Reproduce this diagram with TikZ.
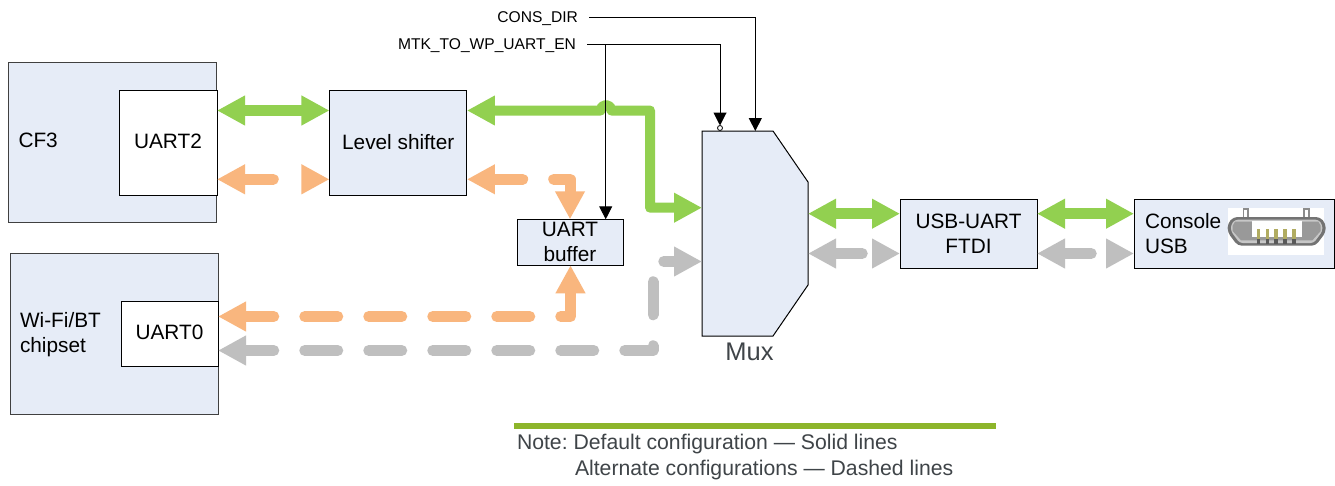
\documentclass[tikz,border=0pt]{standalone}
\usepackage{fontspec}
\setmainfont{Liberation Sans}
\usetikzlibrary{arrows.meta,calc}
\definecolor{boxfill}{HTML}{E6ECF7}
\definecolor{gn}{HTML}{92D050}
\definecolor{og}{HTML}{F9B67E}
\definecolor{gy}{HTML}{BFBFBF}
\definecolor{rule}{HTML}{8DB52B}
\definecolor{ink}{HTML}{3F4448}
\tikzset{
  x=1pt,y=-1pt,
  every node/.style={inner sep=0pt,outer sep=0pt},
  box/.style={draw=black,line width=1pt,fill=boxfill,align=center,font=\fontsize{20.8}{25}\selectfont},
  txt/.style={align=left,anchor=west,font=\fontsize{20.8}{25}\selectfont},
  sig/.style={anchor=east,inner xsep=11pt,text height=11.5pt,text depth=0pt,font=\fontsize{15.6}{18}\selectfont},
  notetxt/.style={txt,text=ink,font=\fontsize{21.2}{25}\selectfont\frenchspacing},
  fat/.style={line width=11pt,line join=round,>={Triangle[length=28pt,width=28pt]}},
  dashA/.style={line cap=round,dash pattern=on 33pt off 31pt,dash phase=3.5pt},
  thin/.style={draw=black,line width=1pt,arrows={-Triangle[length=13pt,width=13pt]}},
}
\begin{document}
\begin{tikzpicture}
\useasboundingbox (0,0) rectangle (1335,485);
\fill[white] (0,0) rectangle (1335,485);
% rows
\coordinate (rowG) at (0,110.5);
\coordinate (rowO) at (0,179.3);
\coordinate (rowMg) at (0,207.7);
\coordinate (rowMo) at (0,261.5);
\coordinate (rowU) at (0,316.5);
\coordinate (rowL) at (0,350.5);
\coordinate (rowRg) at (0,213.7);
\coordinate (rowRo) at (0,253.5);
% outer blocks
\node[box,draw=black!75!white,minimum width=208,minimum height=160] (cf3) at (112,142) {};
\node[box,fill=white,text depth=2pt,minimum width=98,minimum height=105] (uart2) at (168,142.5) {UART2};
\node[txt] (cf3t) at (18.5,140.5) {CF3};
\node[box,draw=black!75!white,minimum width=208,minimum height=161] (wifi) at (114,333.5) {};
\node[box,fill=white,text depth=2pt,minimum width=97,minimum height=65] (uart0) at (169.5,333.5) {UART0};
\node[txt] (wifit) at (20,334.5) {Wi-Fi/BT\\chipset};
\node[box,text depth=2pt,minimum width=137.5,minimum height=105] (level) at (398.2,142.5) {Level shifter};
\node[box,minimum width=106,minimum height=46] (buffer) at (570,242.3) {UART\\buffer};
\node[box,minimum width=137,minimum height=69] (ftdi) at (968.5,233.5) {USB-UART\\FTDI};
\node[box,minimum width=200,minimum height=69] (console) at (1234,233.5) {};
\node[txt] (consolet) at (1145,233.5) {Console\\USB};
% mux
\node[minimum width=106,minimum height=205] (mux) at (755,233.5) {};
\draw[line width=1pt,fill=boxfill,line join=miter] (mux.north west) -- ($(mux.north east)+(-35,0)$) -- ($(mux.north east)+(0,51)$) -- ($(mux.south east)+(0,-51)$) -- ($(mux.south east)+(-35,0)$) -- (mux.south west) -- cycle;
\node[font=\fontsize{25.5}{30}\selectfont,text=ink] (muxt) at (749.5,351.5) {Mux};
% USB connector picture
\begin{scope}[shift={(1225,203)},x=0.3333pt,y=-0.3333pt]
\fill[white] (8,15) rectangle (297,155);
\fill[black!45!white] (53,15) rectangle (72,50);
\fill[black!45!white] (235,15) rectangle (254,50);
\fill[white] (58,20) rectangle (67,50);
\fill[white] (240,20) rectangle (249,50);
\fill[black!55!white,rounded corners=4pt] (25,42) -- (285,42) -- (302,62) -- (302,88) -- (272,128) -- (38,128) -- (8,88) -- (8,62) -- cycle;
\fill[black!22!white,rounded corners=3pt] (30,50) -- (280,50) -- (292,65) -- (292,85) -- (266,120) -- (44,120) -- (18,85) -- (18,65) -- cycle;
\fill[black!40!white] (30,56) -- (280,56) -- (287,68) -- (287,84) -- (262,112) -- (48,112) -- (23,84) -- (23,68) -- cycle;
\fill[white] (80,55) rectangle (230,102);
\foreach \px in {100,127,153,180,207}{
  \fill[black!65!white] (\px-5,100) rectangle (\px+5,122);
  \fill[black!25!yellow!60!gray] (\px-5,78) rectangle (\px+5,108);
}
\end{scope}
% fat connectors
\draw[fat,gn,<->] (uart2.east |- rowG) -- (level.west |- rowG);
\coordinate (jump) at (600.5,110.5);
\coordinate (corG) at (650,110.5);
\draw[fat,line width=10pt,gn,<->] (level.east |- rowG) -- (jump) arc[start angle=180,end angle=0,radius=5.5pt] -- (corG) -- (corG |- rowMg) -- (mux.west |- rowMg);
\draw[fat,gn,<->] (mux.east |- rowRg) -- (ftdi.west |- rowRg);
\draw[fat,gn,<->] (ftdi.east |- rowRg) -- (console.west |- rowRg);
\draw[fat,og,<->,line cap=round,dash pattern=on 30pt off 60pt] (uart2.east |- rowO) -- (level.west |- rowO);
\draw[fat,og,<->,dashA] (level.east |- rowO) -- (buffer.north |- rowO) -- (buffer.north);
\coordinate (corO) at (570.5,316.5);
\draw[fat,og,<->,dashA] (uart0.east |- rowU) -- (corO) -- (corO |- buffer.south);
\coordinate (corY) at (653,350.5);
\draw[fat,gy,<->,dashA] (uart0.east |- rowL) -- (corY) -- (corY |- rowMo) -- (mux.west |- rowMo);
\draw[fat,gy,<->,line cap=round,dash pattern=on 28pt off 60pt] (mux.east |- rowRo) -- (ftdi.west |- rowRo);
\draw[fat,gy,<->,line cap=round,dash pattern=on 28pt off 60pt] (ftdi.east |- rowRo) -- (console.west |- rowRo);
% control signals
\node[sig] (consdir) at (589,17) {CONS\_DIR};
\node[sig] (mtk) at (587,44) {MTK\_TO\_WP\_UART\_EN};
\coordinate (consIn) at (755.3,131);
\node[circle,draw=black,line width=0.8pt,fill=white,minimum size=5pt] (inv) at (720,128) {};
\coordinate (branch) at (605.7,44);
\draw[thin] (consdir.east) -| (consIn);
\draw[thin] (mtk.east) -| (inv.north);
\draw[thin] (branch) -- (branch |- buffer.north);
% note
\node[minimum width=482,minimum height=6,fill=rule] (noterule) at (755,426) {};
\node[notetxt] (note1) at (517,444) {Note: Default configuration — Solid lines};
\node[notetxt] (note2) at (575,470) {Alternate configurations — Dashed lines};
\end{tikzpicture}
\end{document}
